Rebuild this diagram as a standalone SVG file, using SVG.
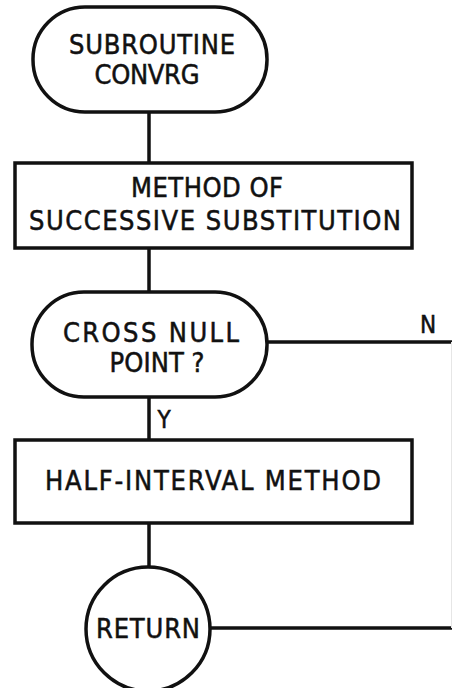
<svg xmlns="http://www.w3.org/2000/svg" width="452" height="688" viewBox="0 0 452 688">
<style>
.s{fill:#fff;stroke:#111;stroke-width:3.5}
.c{fill:none;stroke:#111;stroke-width:3.5}
.t{font-family:"DejaVu Sans Condensed","DejaVu Sans",sans-serif;font-stretch:condensed;font-size:27px;fill:#111;stroke:#111;stroke-width:0.5;text-anchor:middle}
.l{font-family:"DejaVu Sans Condensed","DejaVu Sans",sans-serif;font-stretch:condensed;font-size:24px;fill:#111;stroke:#111;stroke-width:0.5;text-anchor:middle}
</style>
<rect width="452" height="688" fill="#fff"/>
<g id="connectors">
<line class="c" x1="149" y1="112" x2="149" y2="163"/>
<line class="c" x1="149" y1="248" x2="149" y2="292"/>
<line class="c" x1="149" y1="397" x2="149" y2="440"/>
<line class="c" x1="149" y1="523" x2="149" y2="567"/>
<line class="c" x1="267" y1="342" x2="452" y2="342"/>
<line class="c" x1="211" y1="628" x2="452" y2="628"/>
<line x1="451.5" y1="342" x2="451.5" y2="628" stroke="#e6e6e6" stroke-width="1"/>
<text class="l" x="428" y="333">N</text>
<text class="l" x="164" y="428">Y</text>
</g>
<g id="start">
<rect class="s" x="33" y="7" width="234" height="105" rx="52" ry="52"/>
<text class="t" x="152" y="54" textLength="166" lengthAdjust="spacing">SUBROUTINE</text>
<text class="t" x="147" y="84" textLength="105" lengthAdjust="spacing">CONVRG</text>
</g>
<g id="successive">
<rect class="s" x="15" y="163" width="397" height="85"/>
<text class="t" x="207" y="197" textLength="152" lengthAdjust="spacing">METHOD OF</text>
<text class="t" x="215" y="230" textLength="372" lengthAdjust="spacing">SUCCESSIVE SUBSTITUTION</text>
</g>
<g id="decision">
<rect class="s" x="32" y="292" width="235" height="105" rx="52" ry="52"/>
<text class="t" x="151" y="342" textLength="176" lengthAdjust="spacing">CROSS NULL</text>
<text class="t" x="157" y="372" textLength="95" lengthAdjust="spacing">POINT ?</text>
</g>
<g id="halfinterval">
<rect class="s" x="15" y="440" width="397" height="83"/>
<text class="t" x="213" y="490" textLength="336" lengthAdjust="spacing">HALF-INTERVAL METHOD</text>
</g>
<g id="return">
<circle class="s" cx="148" cy="629" r="62"/>
<text class="t" x="148" y="638" textLength="104" lengthAdjust="spacing">RETURN</text>
</g>
</svg>
